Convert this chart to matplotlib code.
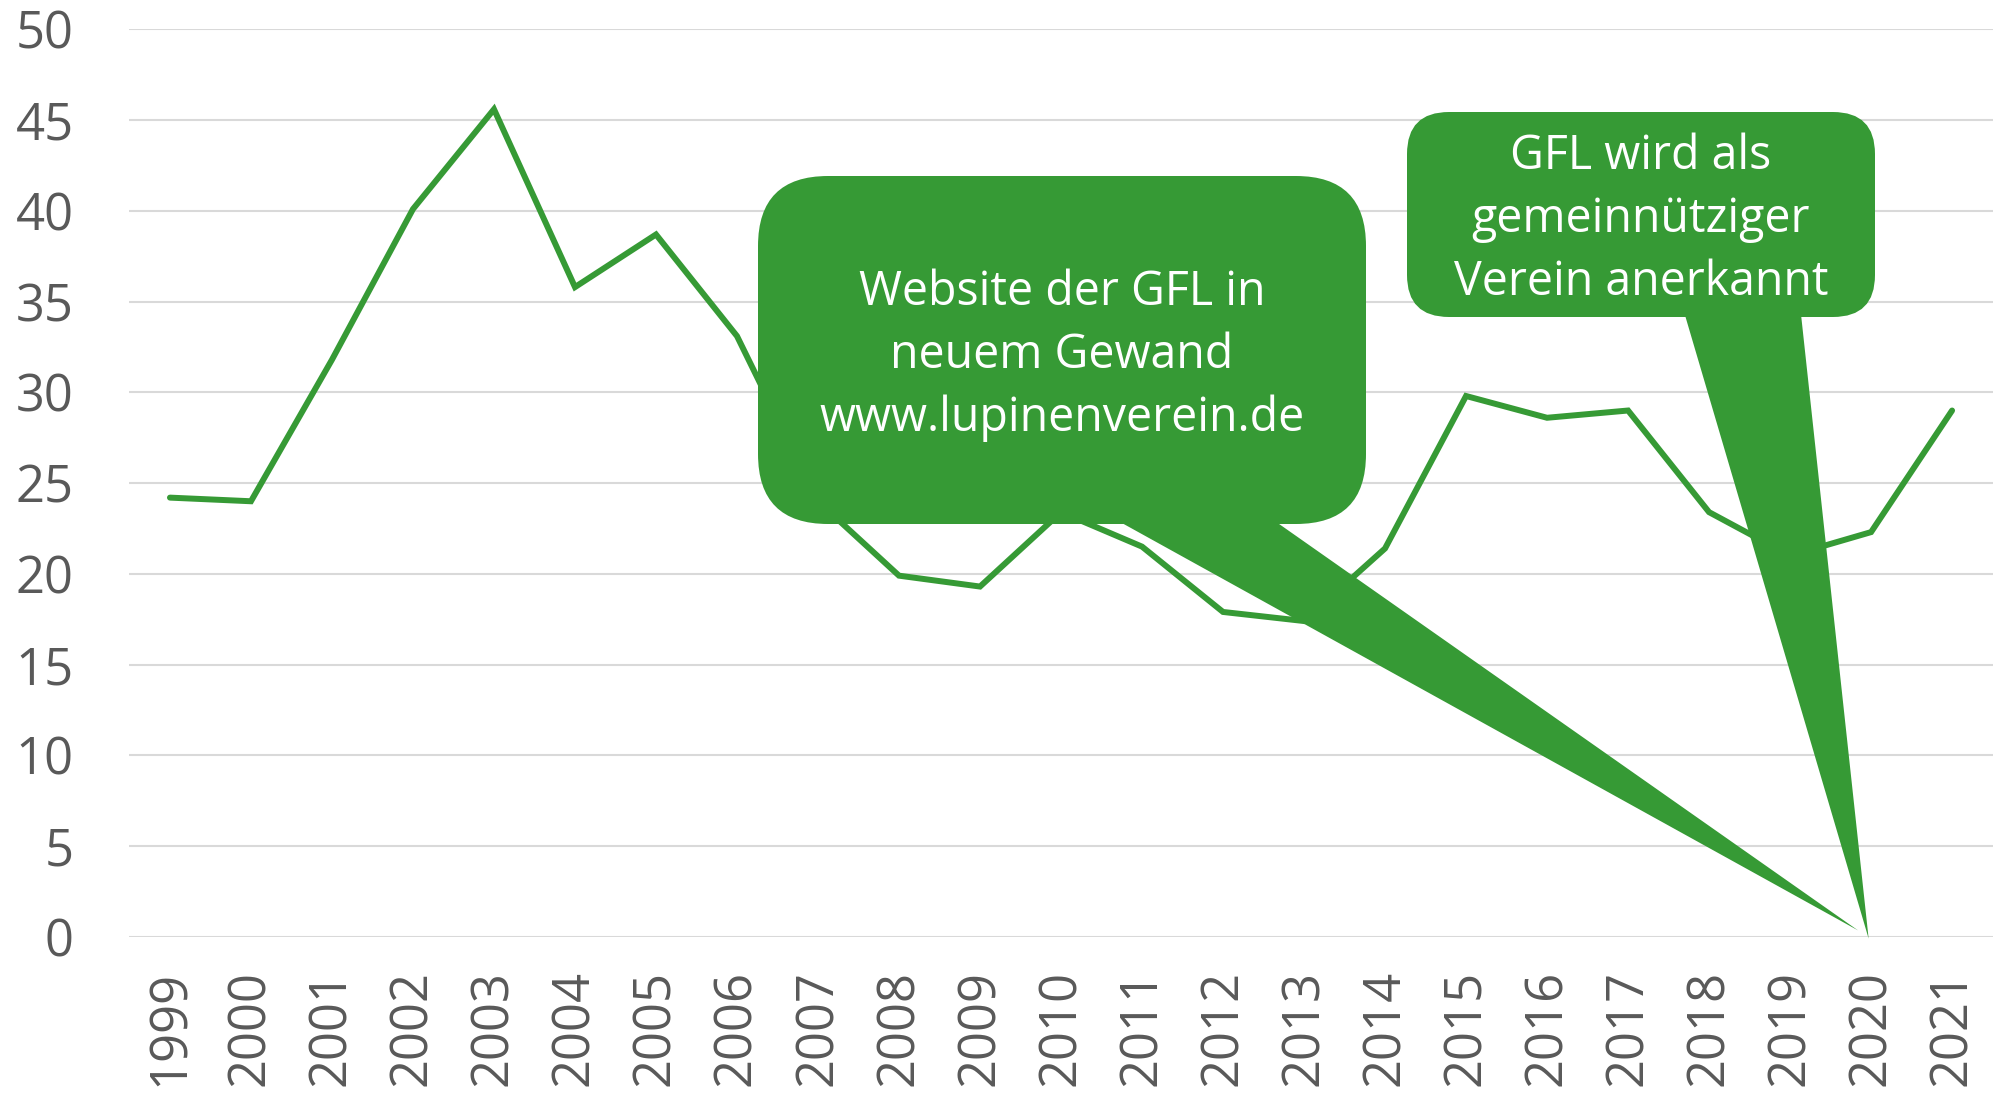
import matplotlib.pyplot as plt
from matplotlib.patches import FancyBboxPatch, Polygon

YEARS = [str(year) for year in range(1999, 2022)]
VALUES = [
    24.2, 24.0, 31.8, 40.1, 45.6, 35.8, 38.7, 33.1, 24.0, 19.9, 19.3, 23.4,
    21.5, 17.9, 17.4, 21.4, 29.8, 28.6, 29.0, 23.4, 21.0, 22.3, 29.0,
]
Y_TICKS = [0, 5, 10, 15, 20, 25, 30, 35, 40, 45, 50]

CALLOUT_TEXTS = [
    "Website der GFL in\nneuem Gewand\nwww.lupinenverein.de",
    "GFL wird als\ngemeinnütziger\nVerein anerkannt",
]

GREEN = "#369A35"
GRID = "#D9D9D9"
LABEL = "#595959"
FONT = ["Open Sans", "DejaVu Sans"]

WIDTH_PX, HEIGHT_PX, DPI = 2004, 1093, 100


def px_to_inch(x, y):
    # pixel coordinates measured from the top-left corner
    return x / DPI, (HEIGHT_PX - y) / DPI


def add_callout(fig, ax, text, box, radius, base, tip):
    left, top, right, bottom = box
    x0, y0 = px_to_inch(left, bottom)
    x1, y1 = px_to_inch(right, top)
    trans = fig.dpi_scale_trans
    bubble = FancyBboxPatch(
        (x0, y0), x1 - x0, y1 - y0,
        boxstyle=f"round,pad=0,rounding_size={radius / DPI}",
        facecolor=GREEN, edgecolor="none", transform=trans, zorder=5,
    )
    fig.add_artist(bubble)

    tip_inch = trans.inverted().transform(ax.transData.transform(tip))
    base_left = px_to_inch(base[0], bottom - 12)
    base_right = px_to_inch(base[1], bottom - 12)
    tail = Polygon(
        [base_left, base_right, tuple(tip_inch)],
        closed=True, facecolor=GREEN, edgecolor="none",
        transform=trans, zorder=5,
    )
    fig.add_artist(tail)

    cx, cy = px_to_inch((left + right) / 2, (top + bottom) / 2 + 5)
    fig.text(
        cx, cy, text, transform=trans, ha="center", va="center",
        color="white", fontsize=33.5, family=FONT, linespacing=1.43, zorder=6,
    )


def main() -> None:
    fig = plt.figure(figsize=(WIDTH_PX / DPI, HEIGHT_PX / DPI), dpi=DPI)
    ax = fig.add_axes((0.0646, 0.1429, 0.9297, 0.8302))

    x = range(len(YEARS))
    ax.plot(x, VALUES, color=GREEN, linewidth=4.3, solid_capstyle="round",
            solid_joinstyle="miter", zorder=3)

    ax.set_xlim(-0.5, len(YEARS) - 0.5)
    ax.set_ylim(0, 50)
    ax.set_yticks(Y_TICKS)
    ax.set_xticks(list(x), YEARS, rotation=90)
    ax.yaxis.grid(True, color=GRID, linewidth=1.5)
    ax.set_axisbelow(True)
    for spine in ax.spines.values():
        spine.set_visible(False)
    ax.tick_params(axis="y", length=0, pad=40, labelsize=36.5, labelcolor=LABEL)
    ax.tick_params(axis="x", length=0, pad=24, labelsize=36.5, labelcolor=LABEL)
    for label in ax.get_xticklabels() + ax.get_yticklabels():
        label.set_family(FONT)

    add_callout(fig, ax, CALLOUT_TEXTS[0], (758, 176, 1366, 524), 70,
                (1102, 1262), (20.84, 0.35))
    add_callout(fig, ax, CALLOUT_TEXTS[1], (1407, 112, 1875, 317), 42,
                (1682, 1800), (20.97, -0.1))

    fig.savefig("out.png", dpi=DPI)
    plt.close(fig)


if __name__ == "__main__":
    main()
